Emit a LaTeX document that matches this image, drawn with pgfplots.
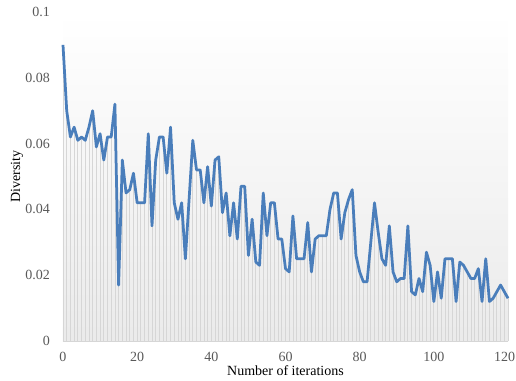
\documentclass[border=0pt]{standalone}
\usepackage{pgfplots}
\pgfplotsset{compat=1.18}
\usepackage{pgfplotstable}
\usepackage{fontspec}
\setmainfont{Liberation Serif}

\definecolor{lineblue}{HTML}{4A7EBB}
\definecolor{tickgray}{HTML}{595959}
\definecolor{dropgray}{HTML}{D6D6D6}

\pgfplotstableread{
it div
0 0.090
1 0.070
2 0.062
3 0.065
4 0.061
5 0.062
6 0.061
7 0.065
8 0.070
9 0.059
10 0.063
11 0.055
12 0.062
13 0.062
14 0.072
15 0.017
16 0.055
17 0.045
18 0.046
19 0.051
20 0.042
21 0.042
22 0.042
23 0.063
24 0.035
25 0.055
26 0.062
27 0.062
28 0.051
29 0.065
30 0.042
31 0.037
32 0.042
33 0.025
34 0.043
35 0.061
36 0.052
37 0.052
38 0.042
39 0.053
40 0.041
41 0.055
42 0.056
43 0.039
44 0.045
45 0.032
46 0.042
47 0.031
48 0.047
49 0.047
50 0.026
51 0.037
52 0.024
53 0.023
54 0.045
55 0.032
56 0.042
57 0.042
58 0.031
59 0.031
60 0.022
61 0.021
62 0.038
63 0.025
64 0.025
65 0.025
66 0.036
67 0.021
68 0.031
69 0.032
70 0.032
71 0.032
72 0.040
73 0.045
74 0.045
75 0.031
76 0.039
77 0.043
78 0.046
79 0.026
80 0.021
81 0.018
82 0.018
83 0.030
84 0.042
85 0.033
86 0.025
87 0.023
88 0.035
89 0.021
90 0.018
91 0.019
92 0.019
93 0.035
94 0.015
95 0.014
96 0.019
97 0.015
98 0.027
99 0.023
100 0.012
101 0.021
102 0.013
103 0.025
104 0.025
105 0.025
106 0.012
107 0.024
108 0.023
109 0.021
110 0.019
111 0.019
112 0.022
113 0.012
114 0.025
115 0.012
116 0.013
117 0.015
118 0.017
119 0.015
120 0.013
}\diversity

\begin{document}
\begin{tikzpicture}
% overall canvas
\path[use as bounding box] (-63pt,-39pt) rectangle (453pt,341pt);
\begin{axis}[
  at={(0pt,0pt)}, anchor=origin,
  scale only axis, width=445pt, height=329pt,
  xmin=0, xmax=120, ymin=0, ymax=0.1,
  enlargelimits=false,
  axis x line=bottom, axis y line=left,
  x axis line style={draw=dropgray, -},
  y axis line style={draw=none},
  major tick length=0pt,
  xtick={0,20,40,60,80,100,120},
  xticklabels={0,20,40,60,80,100,\makebox[0pt]{120\hspace{7pt}}},
  ytick={0,0.02,0.04,0.06,0.08,0.1},
  yticklabels={0,0.02,0.04,0.06,0.08,0.1},
  scaled y ticks=false,
  /pgf/number format/assume math mode=true,
  ticklabel style={font=\fontsize{14}{16}\selectfont, text=tickgray},
  xticklabel style={anchor=center, yshift=-16pt},
  yticklabel style={anchor=east, inner sep=0pt, xshift=-13pt},
  xlabel={Number of iterations},
  ylabel={Diversity},
  label style={font=\fontsize{14}{16}\selectfont, text=black},
  xlabel style={at={(axis description cs:0.5,0)}, anchor=center, yshift=-30pt},
  ylabel style={at={(axis description cs:-0.1034,0.5)}, anchor=center},
  axis background/.style={top color=white, bottom color=black!8},
  clip=false,
]
% drop lines from each iteration down to zero
\addplot[ycomb, draw=dropgray, line width=0.8pt, no marks] table[x=it, y=div] {\diversity};
% diversity curve
\addplot[draw=lineblue, line width=2.75pt, line join=round, no marks] table[x=it, y=div] {\diversity};
\end{axis}
\end{tikzpicture}
\end{document}
